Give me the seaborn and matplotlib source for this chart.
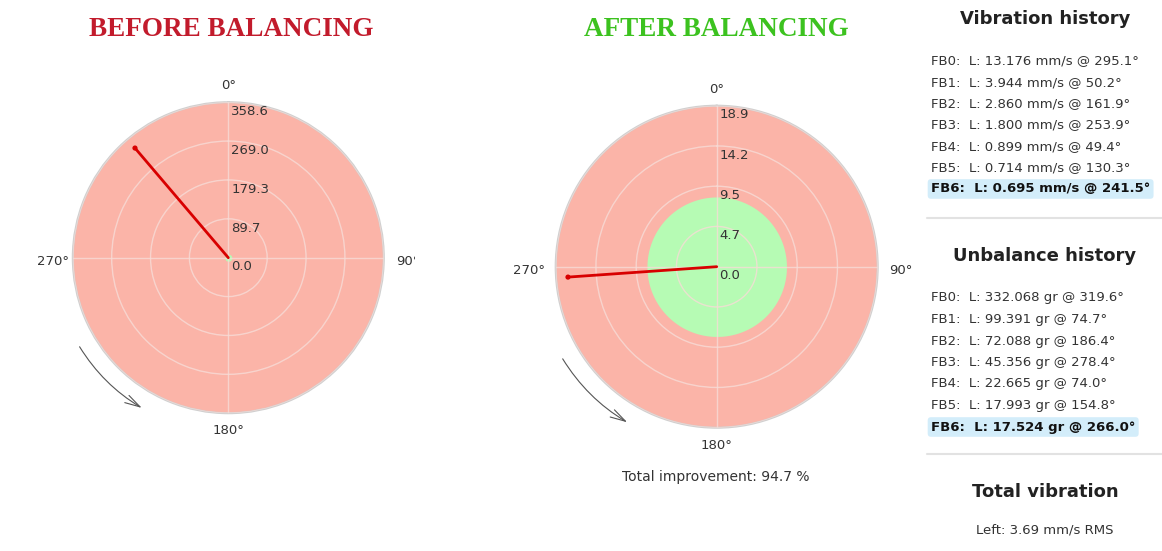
import matplotlib
matplotlib.use("Agg")
import matplotlib.pyplot as plt
from matplotlib.patches import Rectangle
import numpy as np
import pandas as pd
import seaborn as sns

# balancing run history (FB0 = initial run, FB6 = final run)
runs = ["FB0", "FB1", "FB2", "FB3", "FB4", "FB5", "FB6"]
vib_amp = [13.176, 3.944, 2.860, 1.800, 0.899, 0.714, 0.695]
vib_angle = [295.1, 50.2, 161.9, 253.9, 49.4, 130.3, 241.5]
unb_amp = [332.068, 99.391, 72.088, 45.356, 22.665, 17.993, 17.524]
unb_angle = [319.6, 74.7, 186.4, 278.4, 74.0, 154.8, 266.0]
tolerance = 8.2
improvement = 94.7
total_left_rms = 3.69

angle_ticks = [0, 90, 180, 270]
angle_labels = ["0°", "90°", "180°", "270°"]

W, H = 1162, 551
SALMON = "#fbb4a8"
GREEN = "#b6fbb4"
TXT = "#333333"

sns.set_style("white")
plt.rcParams["font.family"] = ["DejaVu Sans"]

fig = plt.figure(figsize=(W / 100, H / 100), dpi=100)


def fx(px):
    return px / W


def fy(py):
    return 1 - py / H


def polar_panel(cx, cy, rad, amp, ang, clip_right=None, left_off=-17):
    ax = fig.add_axes([fx(cx - rad), fy(cy + rad), 2 * rad / W, 2 * rad / H],
                      projection="polar")
    ax.set_theta_zero_location("N")
    ax.set_theta_direction(-1)
    ax.set_facecolor(SALMON)
    ax.set_axisbelow(False)
    rmax = amp * 1.08
    ax.set_ylim(0, rmax)
    rticks = [rmax * k / 4 for k in range(1, 5)]
    ax.set_yticks(rticks)
    ax.set_yticklabels([])
    ax.set_xticks(np.radians(angle_ticks))
    ax.set_xticklabels([])
    ax.grid(True, color="#f7dcd7", lw=1.0, alpha=0.8)
    ax.spines["polar"].set_color("#d0d0d0")
    ax.spines["polar"].set_linewidth(1.5)

    # green tolerance zone
    th = np.linspace(0, 2 * np.pi, 300)
    ax.fill_between(th, 0, tolerance, color=GREEN, zorder=1, lw=0)

    # radial labels just below each ring
    for r in [0] + rticks:
        ax.annotate(f"{r:.1f}", xy=(0, r), xytext=(2, -2), textcoords="offset points",
                    ha="left", va="top", fontsize=9.5, color=TXT, zorder=5)

    # angle labels
    offs = {0: (0, 12), 90: (17, -3), 180: (0, -12.5), 270: (left_off, -3)}
    for a, lab in zip(angle_ticks, angle_labels):
        t = ax.annotate(lab, xy=(np.radians(a), rmax), xytext=offs[a],
                        textcoords="offset points", ha="center", va="center",
                        fontsize=9.5, color=TXT, annotation_clip=False)
        if clip_right is not None and a == 90:
            t.set_clip_path(Rectangle((0, 0), fx(clip_right), 1,
                                      transform=fig.transFigure))

    # vector of the current unbalance
    vec = pd.DataFrame({"theta": [0, np.radians(ang)], "r": [0, amp]})
    sns.lineplot(data=vec, x="theta", y="r", sort=False, color="#d80000", lw=2,
                 ax=ax, zorder=4)
    sns.scatterplot(data=vec.iloc[1:], x="theta", y="r", color="#d80000", s=14,
                    edgecolor="none", ax=ax, zorder=4)
    ax.set_xlabel("")
    ax.set_ylabel("")

    # rotation direction arrow
    ra = rmax * 1.115
    ax.annotate("", xy=(np.radians(209), ra), xytext=(np.radians(240), ra),
                arrowprops=dict(arrowstyle="->,head_length=1.1,head_width=0.3",
                                connectionstyle="arc3,rad=0.13", color="#555555",
                                lw=0.8), annotation_clip=False)
    return ax


polar_panel(228.3, 257.7, 155.5, unb_amp[0], unb_angle[0], clip_right=415, left_off=-14.5)
polar_panel(716.7, 266.7, 161, unb_amp[-1], unb_angle[-1], left_off=-19.5)

fig.text(fx(231), fy(30), "BEFORE BALANCING", ha="center", va="center",
         fontsize=19.5, fontweight="bold", color="#c21b2c", family="Liberation Serif")
fig.text(fx(716), fy(30), "AFTER BALANCING", ha="center", va="center",
         fontsize=19.5, fontweight="bold", color="#3cc21f", family="Liberation Serif")
fig.text(fx(716), fy(477), f"Total improvement: {improvement} %", ha="center",
         va="center", fontsize=10, color=TXT)

# history side panel
px0 = 931
fig.text(fx(1045), fy(19), "Vibration history", ha="center", va="center",
         fontsize=13, fontweight="bold", color="#222222")
for i, run in enumerate(runs):
    last = i == len(runs) - 1
    fig.text(fx(px0), fy(61 + i * 21.33),
             f"{run}:  L: {vib_amp[i]:.3f} mm/s @ {vib_angle[i]:.1f}°",
             ha="left", va="center", fontsize=9.5, color=TXT if not last else "#111111",
             fontweight="bold" if last else "normal",
             bbox=dict(boxstyle="round,pad=0.25", fc="#d3edfa", ec="none") if last else None)
fig.add_artist(plt.Line2D([fx(927), fx(1162)], [fy(218), fy(218)], color="#e2e2e2", lw=1.5))

fig.text(fx(1045), fy(256), "Unbalance history", ha="center", va="center",
         fontsize=13, fontweight="bold", color="#222222")
for i, run in enumerate(runs):
    last = i == len(runs) - 1
    fig.text(fx(px0), fy(298 + i * 21.5),
             f"{run}:  L: {unb_amp[i]:.3f} gr @ {unb_angle[i]:.1f}°",
             ha="left", va="center", fontsize=9.5, color=TXT if not last else "#111111",
             fontweight="bold" if last else "normal",
             bbox=dict(boxstyle="round,pad=0.25", fc="#d3edfa", ec="none") if last else None)
fig.add_artist(plt.Line2D([fx(927), fx(1162)], [fy(454), fy(454)], color="#e2e2e2", lw=1.5))

fig.text(fx(1045), fy(492), "Total vibration", ha="center", va="center",
         fontsize=13, fontweight="bold", color="#222222")
fig.text(fx(1045), fy(530), f"Left: {total_left_rms:.2f} mm/s RMS", ha="center",
         va="center", fontsize=9.5, color=TXT)

fig.savefig("out.png", dpi=100)
